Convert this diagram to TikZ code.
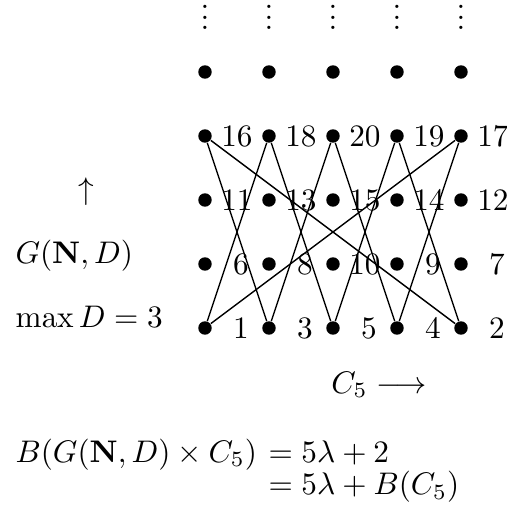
\documentclass[tikz,border=0pt]{standalone}
\usetikzlibrary{positioning}
\newcommand{\colvdots}{\vbox{\baselineskip3.4pt \lineskiplimit0pt \hbox{.}\hbox{.}\hbox{.}}}
\tikzset{
  vert/.style={circle,fill=black,inner sep=0pt,minimum size=4.3pt},
  num/.style={inner sep=0pt},
  txt/.style={inner sep=0pt,anchor=base west},
  edge/.style={line width=0.45pt},
}

\begin{document}
\begin{tikzpicture}[x=20.5pt,y=20.5pt]
  \useasboundingbox (-3.203,-2.8125) rectangle (4.719,5.125);
  % vertices of G(N,D) x C5
  \foreach \c in {1,...,5}
    \foreach \r in {0,...,4}
      \node[vert] (v\c-\r) at (\c-1,\r) {};
  \foreach \c in {1,...,5}
    \node[num,anchor=base] (dots\c) at (\c-1,4.66) {\colvdots};
  % vertex numbers
  \foreach \n [count=\i from 0] in {1,3,5,4,2,6,8,10,9,7,11,13,15,14,12,16,18,20,19,17}{
    \pgfmathtruncatemacro\c{mod(\i,5)}
    \pgfmathtruncatemacro\r{div(\i,5)}
    \pgfmathsetmacro\dx{\n>9 ? 0.5 : 0.56}
    \node[num] (n\n) at (\c+\dx,\r) {$\n$};
  }
  % edges of C5 between bottom and top rows
  \foreach \c/\a/\b in {1/2/5,2/1/3,3/2/4,4/3/5,5/4/1}{
    \draw[edge] (v\c-0) -- (v\a-3);
    \draw[edge] (v\c-0) -- (v\b-3);
  }
  \node[num,anchor=base] (up) at (-1.86,2) {$\uparrow$};
  \node[txt] (gnd) at (-2.97,1) {$G(\mathbf{N},D)$};
  \node[txt] (maxd) at (-2.97,0) {$\max D=3$};
  \node[num,anchor=base] (cfive) at (2.72,-1.02) {$C_5\longrightarrow$};
  % bandwidth
  \node[txt] (eqlhs) at (-2.969,-2.094) {$B(G(\mathbf{N},D)\times C_5)$};
  \node[txt] (eqone) at (0.984,-2.094) {$=5\lambda+2$};
  \node[txt] (eqtwo) at (0.984,-2.609) {$=5\lambda+B(C_5)$};
\end{tikzpicture}
\end{document}
